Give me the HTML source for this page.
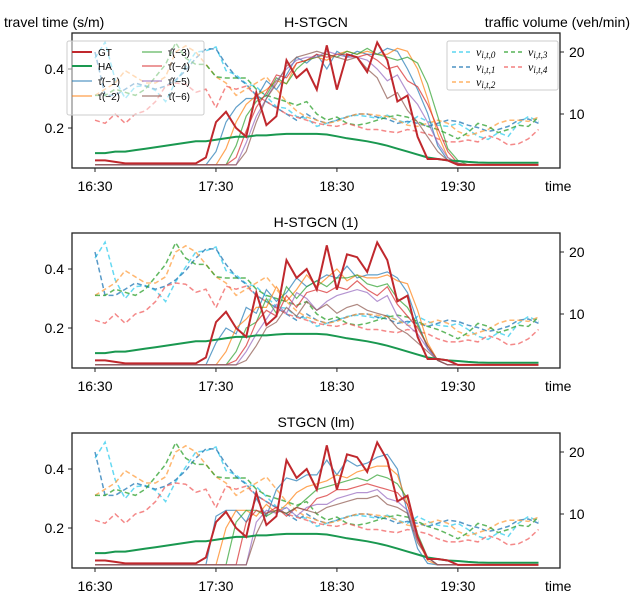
<!DOCTYPE html>
<html><head><meta charset="utf-8"><style>
body{margin:0;background:#fff;}
svg{display:block;font-family:"Liberation Sans",sans-serif;}
</style></head><body>
<svg id="chart" width="635" height="600" xmlns="http://www.w3.org/2000/svg"></svg>
<script>
const xTickLabels = ["16:30","17:30","18:30","19:30"];
const xTickSteps = [0,12,24,36];
const leftTicks = [0.2,0.4];
const rightTicks = [10,20];
const panelTitles = ["H-STGCN","H-STGCN (1)","STGCN (lm)"];
const gt = [.09,.09,.085,.08,.08,.08,.08,.08,.08,.08,.08,.1,.22,.255,.2,.17,.32,.21,.24,.43,.37,.4,.33,.48,.33,.45,.44,.39,.49,.43,.29,.31,.17,.095,.095,.09,.075,.075,.075,.075,.075,.075,.075,.075,.075];
const ha = [.115,.115,.12,.12,.125,.13,.135,.14,.145,.15,.155,.155,.16,.165,.17,.17,.175,.175,.178,.18,.18,.18,.18,.178,.172,.165,.16,.155,.148,.14,.13,.12,.11,.1,.095,.09,.088,.085,.083,.082,.082,.082,.082,.082,.082];
const v0 = [19,21.6,15.5,12.5,14.4,14.6,13.8,12,15.2,17.6,20,20.2,20.8,17,16.3,14.9,14.4,12.8,11.2,10.9,9.6,9.3,8,8.5,9,9.6,9.8,9.6,9.3,9.8,9,8.5,9.6,8.8,8.2,8,8.5,7.5,6.4,5.9,7,6.4,8.5,9.6,8.8];
const v1 = [20,13,13,14,15,14.5,14,14.5,15.5,17,19,20.5,20.5,18,16,14.8,13,12,11,10,9,10,9,8.5,9,9.5,10,10,9.5,9.2,8.5,8.8,8.5,8,8.5,9,8.8,8.2,7.8,7.2,7.5,8,9,9.2,8.5];
const v2 = [13,14,15,17,16,15,15,16,20,21,20,18,16,15,13,14,15,16,14,12,10.5,9.5,9,8.5,8.8,9.5,10,10,9.8,9.6,9,8.2,8,8.5,9,8.5,7.2,6.5,7,7.5,8.5,9,9,8.8,9.5];
const v3 = [13,13,14,13.5,13,14,16,18,21.5,19,18,18,16,15.8,15.8,15.8,14,13,12.5,12,11.4,12,10,9,9.5,8.5,8.2,8.5,9,9.5,9.8,9.5,8.8,8,7.5,6.8,6,7,8.5,8,7,7.5,8.2,8,9.5];
const v4 = [9,8.5,10,8.5,10,10.5,12,14.5,15,14.8,13.5,14,11,14.5,14,14.5,13,12,11,10,9.5,9,8.5,8.2,8,8.5,8,7.5,7.5,7.2,7,7.5,7.2,6.8,6,5.5,5.5,5.8,5.5,6.5,6,5,5.2,6,7.5];
const p1t1 = [.075,.075,.075,.075,.075,.075,.075,.075,.075,.075,.075,.075,.12,.22,.27,.30,.30,.36,.33,.38,.44,.42,.45,.40,.46,.44,.46,.45,.45,.47,.46,.40,.33,.25,.14,.09,.075,.075,.075,.075,.075,.075,.075,.075,.075];
const p1t2 = [.075,.075,.075,.075,.075,.075,.075,.075,.075,.075,.075,.075,.075,.13,.22,.28,.31,.33,.36,.35,.42,.43,.44,.43,.45,.46,.45,.46,.45,.45,.47,.46,.40,.30,.18,.10,.08,.075,.075,.075,.075,.075,.075,.075,.075];
const p1t3 = [.075,.075,.075,.075,.075,.075,.075,.075,.075,.075,.075,.075,.075,.075,.14,.24,.29,.31,.37,.35,.40,.43,.44,.45,.44,.46,.45,.47,.45,.44,.43,.44,.42,.35,.24,.13,.09,.075,.075,.075,.075,.075,.075,.075,.075];
const p1t4 = [.075,.075,.075,.075,.075,.075,.075,.075,.075,.075,.075,.075,.075,.075,.10,.19,.27,.32,.38,.37,.42,.43,.45,.44,.45,.45,.44,.45,.43,.40,.41,.36,.34,.28,.20,.12,.08,.075,.075,.075,.075,.075,.075,.075,.075];
const p1t5 = [.075,.075,.075,.075,.075,.075,.075,.075,.075,.075,.075,.075,.075,.075,.075,.15,.24,.30,.36,.40,.43,.44,.44,.46,.45,.44,.44,.43,.40,.36,.38,.32,.28,.22,.15,.10,.08,.075,.075,.075,.075,.075,.075,.075,.075];
const p1t6 = [.075,.075,.075,.075,.075,.075,.075,.075,.075,.075,.075,.075,.075,.075,.075,.12,.22,.30,.35,.41,.44,.45,.46,.45,.44,.43,.44,.40,.37,.30,.32,.26,.22,.17,.12,.09,.08,.075,.075,.075,.075,.075,.075,.075,.075];
const p2t1 = [.075,.075,.075,.075,.075,.075,.075,.075,.075,.075,.075,.075,.15,.20,.18,.27,.25,.33,.29,.32,.37,.34,.36,.38,.37,.41,.37,.38,.38,.39,.37,.32,.22,.13,.09,.075,.075,.075,.075,.075,.075,.075,.075,.075,.075];
const p2t2 = [.075,.075,.075,.075,.075,.075,.075,.075,.075,.075,.075,.075,.075,.12,.20,.23,.27,.27,.34,.29,.33,.38,.34,.37,.40,.36,.38,.37,.37,.38,.36,.35,.26,.15,.09,.075,.075,.075,.075,.075,.075,.075,.075,.075,.075];
const p2t3 = [.075,.075,.075,.075,.075,.075,.075,.075,.075,.075,.075,.075,.075,.075,.12,.20,.22,.30,.25,.34,.30,.34,.36,.34,.37,.37,.38,.35,.34,.35,.30,.27,.21,.14,.09,.075,.075,.075,.075,.075,.075,.075,.075,.075,.075];
const p2t4 = [.075,.075,.075,.075,.075,.075,.075,.075,.075,.075,.075,.075,.075,.075,.09,.14,.22,.26,.24,.31,.27,.32,.33,.32,.34,.33,.36,.33,.31,.34,.28,.24,.20,.14,.09,.075,.075,.075,.075,.075,.075,.075,.075,.075,.075];
const p2t5 = [.075,.075,.075,.075,.075,.075,.075,.075,.075,.075,.075,.075,.075,.075,.075,.12,.18,.23,.28,.25,.32,.30,.26,.29,.31,.32,.33,.32,.29,.31,.24,.21,.18,.13,.09,.075,.075,.075,.075,.075,.075,.075,.075,.075,.075];
const p2t6 = [.075,.075,.075,.075,.075,.075,.075,.075,.075,.075,.075,.075,.075,.075,.075,.09,.14,.20,.22,.27,.24,.29,.26,.28,.25,.27,.28,.26,.25,.24,.20,.18,.15,.12,.09,.075,.075,.075,.075,.075,.075,.075,.075,.075,.075];
const p3t1 = [.075,.075,.075,.075,.075,.075,.075,.075,.075,.075,.075,.075,.24,.26,.26,.22,.30,.24,.33,.37,.36,.38,.38,.43,.38,.43,.41,.42,.44,.45,.40,.25,.13,.08,.075,.075,.075,.075,.075,.075,.075,.075,.075,.075,.075];
const p3t2 = [.075,.075,.075,.075,.075,.075,.075,.075,.075,.075,.075,.075,.075,.20,.26,.26,.24,.28,.25,.28,.32,.34,.35,.36,.38,.37,.39,.40,.41,.41,.38,.28,.16,.09,.075,.075,.075,.075,.075,.075,.075,.075,.075,.075,.075];
const p3t3 = [.075,.075,.075,.075,.075,.075,.075,.075,.075,.075,.075,.075,.075,.075,.22,.26,.26,.24,.26,.25,.27,.30,.33,.34,.35,.36,.37,.36,.38,.37,.35,.30,.18,.10,.075,.075,.075,.075,.075,.075,.075,.075,.075,.075,.075];
const p3t4 = [.075,.075,.075,.075,.075,.075,.075,.075,.075,.075,.075,.075,.075,.075,.075,.22,.26,.25,.27,.24,.27,.26,.30,.31,.33,.33,.34,.35,.34,.33,.32,.28,.17,.10,.075,.075,.075,.075,.075,.075,.075,.075,.075,.075,.075];
const p3t5 = [.075,.075,.075,.075,.075,.075,.075,.075,.075,.075,.075,.075,.075,.075,.075,.075,.22,.26,.25,.27,.24,.27,.28,.28,.30,.31,.32,.32,.33,.30,.29,.26,.16,.10,.075,.075,.075,.075,.075,.075,.075,.075,.075,.075,.075];
const p3t6 = [.075,.075,.075,.075,.075,.075,.075,.075,.075,.075,.075,.075,.075,.075,.075,.075,.18,.25,.26,.25,.27,.26,.25,.27,.28,.29,.30,.30,.31,.28,.27,.25,.15,.10,.075,.075,.075,.075,.075,.075,.075,.075,.075,.075,.075];

const panelPreds = [[p1t1,p1t2,p1t3,p1t4,p1t5,p1t6],[p2t1,p2t2,p2t3,p2t4,p2t5,p2t6],[p3t1,p3t2,p3t3,p3t4,p3t5,p3t6]];
const vols = [v0,v1,v2,v3,v4];
const predColors = ["#1f77b4","#ff7f0e","#2ca02c","#d62728","#9467bd","#8c564b"];
const volColors = ["#33ccee","#1f77b4","#ff9f40","#2ca02c","#f06060"];
const NS = "http://www.w3.org/2000/svg";
const svg = document.getElementById("chart");
function el(tag, attrs, parent){const e=document.createElementNS(NS,tag);for(const k in attrs)e.setAttribute(k,attrs[k]);(parent||svg).appendChild(e);return e;}
const X0=95, STEP=10.08, BOXL=72, BOXR=560;
function xs(i){return X0+i*STEP;}
function yl(v,off){return 187+off-v*295;}
function yr(v,off){return 176+off-v*6.2;}
function pathFrom(arr,fx,fy){return arr.map((v,i)=>(i?"L":"M")+fx(i).toFixed(1)+","+fy(v).toFixed(1)).join(" ");}

for(let p=0;p<3;p++){
  const off=p*200;
  const g=el("g",{});
  
  
  const t=el("text",{x:316,y:27+off,"text-anchor":"middle","font-size":14},g);t.textContent=panelTitles[p];
  
  
  vols.forEach((arr,k)=>{
    const pa=el("path",{d:pathFrom(arr,xs,v=>yr(v,off)),fill:"none",stroke:volColors[k],"stroke-width":1.5,"stroke-dasharray":"5,3",opacity:0.75},g);
    
    
  });
  panelPreds[p].forEach((arr,k)=>{
    const pa=el("path",{d:pathFrom(arr,xs,v=>yl(v,off)),fill:"none",stroke:predColors[k],"stroke-width":1.2,opacity:0.7},g);
    
    
  });
  const h=el("path",{d:pathFrom(ha,xs,v=>yl(v,off)),fill:"none",stroke:"#1a9850","stroke-width":2},g);
  
  
  const gl=el("path",{d:pathFrom(gt,xs,v=>yl(v,off)),fill:"none",stroke:"#c0282d","stroke-width":2},g);
  
  
  const box=el("rect",{x:BOXL,y:33+off,width:BOXR-BOXL,height:135,fill:"none",stroke:"#222","stroke-width":1.3},g);
  
  
  xTickSteps.forEach((s,i)=>{
    el("line",{x1:xs(s),x2:xs(s),y1:168+off,y2:172+off,stroke:"#222"},g);
    const tt=el("text",{x:xs(s),y:191+off,"text-anchor":"middle","font-size":14},g);tt.textContent=xTickLabels[i];
    
    
  });
  const tm=el("text",{x:545,y:191+off,"font-size":14},g);tm.textContent="time";
  
  
  leftTicks.forEach(v=>{
    const y=yl(v,off);
    el("line",{x1:BOXL-4,x2:BOXL,y1:y,y2:y,stroke:"#222"},g);
    const tt=el("text",{x:BOXL-8,y:y+5,"text-anchor":"end","font-size":14},g);tt.textContent=v.toFixed(1);
    
    
  });
  rightTicks.forEach(v=>{
    const y=yr(v,off);
    el("line",{x1:BOXR,x2:BOXR+4,y1:y,y2:y,stroke:"#222"},g);
    const tt=el("text",{x:BOXR+9,y:y+5,"font-size":14},g);tt.textContent=v;
    
    
  });
}
const yt=el("text",{x:4,y:27,"font-size":14});yt.textContent="travel time (s/m)";


const ryt=el("text",{x:630,y:27,"font-size":14,"text-anchor":"end"});ryt.textContent="traffic volume (veh/min)";



const lg=el("g",{});


el("rect",{x:67,y:41,width:137,height:74,fill:"#fff","fill-opacity":0.5,stroke:"#ccc",rx:2},lg);
const lgEntries=[["GT","#c0282d",80,52,2],["HA","#1a9850",80,66,2],["τ̂(−1)",predColors[0],80,81,1.2],["τ̂(−2)",predColors[1],80,96,1.2],["τ̂(−3)",predColors[2],150,52,1.2],["τ̂(−4)",predColors[3],150,66,1.2],["τ̂(−5)",predColors[4],150,81,1.2],["τ̂(−6)",predColors[5],150,96,1.2]];
lgEntries.forEach(e=>{
  el("line",{x1:e[2]-8,x2:e[2]+12,y1:e[3],y2:e[3],stroke:e[1],"stroke-width":e[4],opacity:e[4]<2?0.75:1},lg);
  const t=el("text",{x:e[2]+18,y:e[3]+4,"font-size":10},lg);t.textContent=e[0];
  
  
});
const lg2=el("g",{});


el("rect",{x:447,y:41,width:111,height:49,fill:"#fff","fill-opacity":0.8,stroke:"#ccc",rx:2},lg2);
const lg2Entries=[["ν",volColors[0],452,52,"i,t,0"],["ν",volColors[1],452,67,"i,t,1"],["ν",volColors[2],452,82,"i,t,2"],["ν",volColors[3],504,52,"i,t,3"],["ν",volColors[4],504,67,"i,t,4"]];
lg2Entries.forEach(e=>{
  el("line",{x1:e[2],x2:e[2]+20,y1:e[3],y2:e[3],stroke:e[1],"stroke-width":1.5,"stroke-dasharray":"4,3",opacity:0.8},lg2);
  const t=el("text",{x:e[2]+24,y:e[3]+4,"font-size":12,"font-family":"Liberation Serif, serif","font-style":"italic"},lg2);
  t.textContent=e[0];
  const s=el("tspan",{"font-size":9,dy:2},t);s.textContent=e[4];
  
  
});
</script>
</body></html>
